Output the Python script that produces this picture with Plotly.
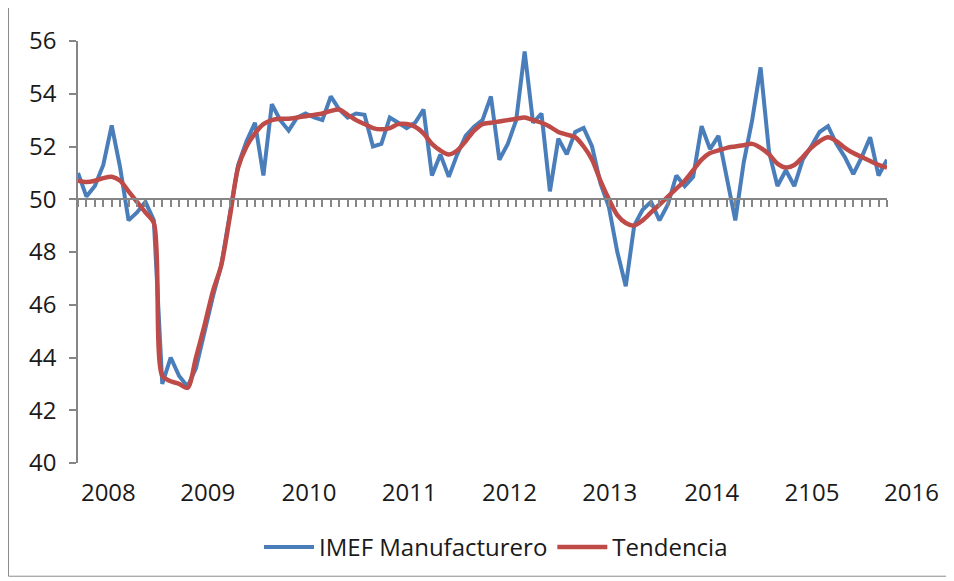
import plotly.graph_objects as go

imef = [51.0, 50.1, 50.5, 51.3, 52.8, 51.2, 49.2, 49.5, 49.9, 49.2,
        43.0, 44.0, 43.3, 42.9, 43.6, 45.0, 46.3, 47.5, 49.5, 51.3,
        52.2, 52.9, 50.9, 53.6, 53.0, 52.6, 53.1, 53.25, 53.1, 53.0,
        53.9, 53.4, 53.1, 53.25, 53.2, 52.0, 52.1, 53.1, 52.9, 52.7,
        52.9, 53.4, 50.9, 51.7, 50.85, 51.7, 52.4, 52.75, 53.0, 53.9,
        51.5, 52.1, 53.0, 55.6, 52.9, 53.25, 50.3, 52.3, 51.7, 52.55,
        52.7, 52.0, 50.6, 49.7, 48.0, 46.7, 49.0, 49.6, 49.9, 49.2,
        49.8, 50.9, 50.5, 50.85, 52.77, 51.9, 52.4, 50.8, 49.2, 51.4,
        53.0, 55.0, 51.8, 50.5, 51.1, 50.5, 51.5, 52.0, 52.55, 52.77,
        52.1, 51.6, 50.95, 51.6, 52.35, 50.9, 51.5]

tendencia = [50.7, 50.65, 50.7, 50.8, 50.85, 50.7, 50.3, 49.9, 49.5, 49.1,
             43.3, 43.1, 43.0, 42.85, 44.0, 45.2, 46.5, 47.5, 49.3, 51.2,
             52.0, 52.5, 52.85, 53.0, 53.05, 53.05, 53.1, 53.15, 53.2, 53.25,
             53.35, 53.4, 53.2, 53.0, 52.85, 52.7, 52.65, 52.7, 52.85, 52.85,
             52.75, 52.5, 52.1, 51.85, 51.7, 51.85, 52.2, 52.6, 52.85, 52.9,
             52.95, 53.0, 53.05, 53.1, 53.0, 52.9, 52.75, 52.55, 52.45, 52.35,
             52.0, 51.5, 50.7, 50.0, 49.4, 49.1, 49.0, 49.2, 49.5, 49.8,
             50.1, 50.4, 50.7, 51.1, 51.5, 51.75, 51.85, 51.95, 52.0, 52.05,
             52.1, 51.95, 51.7, 51.35, 51.2, 51.3, 51.6, 51.95, 52.2, 52.35,
             52.2, 51.95, 51.75, 51.6, 51.45, 51.3, 51.2]

months = list(range(len(imef)))

year_labels = ["2008", "2009", "2010", "2011", "2012", "2013", "2014", "2105", "2016"]
year_label_pos = [3.6, 15.4, 27.4, 39.3, 51.2, 63.1, 75.2, 87.1, 98.9]

y_ticks = [40, 42, 44, 46, 48, 50, 52, 54, 56]

BLUE = "#4A7EBB"
RED = "#BE4B48"
AXIS = "#868686"
TXT = "#1a1a1a"
FONT = "Open Sans, Liberation Sans, sans-serif"
FS = 24

OFF = 8  # page body margin
W, H = 954 - OFF, 581 - OFF
L = 78 - OFF
T = 40.5 - OFF
plot_h = 423
B = H - T - plot_h
plot_w = 846
R = W - L - plot_w
n_last = len(imef) - 1
data_frac = 809 / plot_w
label_range_max = n_last / data_frac


def px_to_paper_x(px):
    return (px - OFF - L) / plot_w


def px_to_paper_y(py):
    return (T + plot_h - (py - OFF)) / plot_h


fig = go.Figure()
# carrier for the year-label axis
fig.add_trace(go.Scatter(x=[year_label_pos[0]], y=[None], mode="lines",
                         showlegend=False, hoverinfo="skip",
                         xaxis="x", yaxis="y"))
fig.add_trace(go.Scatter(
    x=months, y=imef, mode="lines", name="IMEF Manufacturero",
    line=dict(color=BLUE, width=4), xaxis="x2", yaxis="y"))
fig.add_trace(go.Scatter(
    x=months, y=tendencia, mode="lines", name="Tendencia",
    line=dict(color=RED, width=4.5, shape="spline", smoothing=0.8),
    xaxis="x2", yaxis="y"))

border = dict(color="#8c8c8c", width=1)
fig.update_layout(
    width=W, height=H,
    margin=dict(l=L, r=R, t=T, b=B, autoexpand=False),
    paper_bgcolor="white", plot_bgcolor="white",
    font=dict(family=FONT, size=FS, color=TXT),
    showlegend=True,
    legend=dict(orientation="h", x=px_to_paper_x(496), xanchor="center",
                y=px_to_paper_y(548), yanchor="middle",
                font=dict(family=FONT, size=FS, color=TXT),
                itemwidth=50, tracegroupgap=0),
    xaxis=dict(domain=[0, 1], range=[0, label_range_max], anchor="y",
               showline=False, showgrid=False, zeroline=False, ticks="",
               tickmode="array", tickvals=year_label_pos, ticktext=year_labels,
               ticklabelstandoff=13,
               tickfont=dict(family=FONT, size=FS, color=TXT)),
    xaxis2=dict(domain=[0, data_frac], range=[0, n_last], anchor="free",
                position=(50 - 40) / (56 - 40),
                showline=True, linecolor=AXIS, linewidth=1.5,
                showgrid=False, zeroline=False, ticks="outside",
                ticklen=7, tickwidth=1.5, tickcolor=AXIS,
                tickmode="linear", tick0=0, dtick=1, showticklabels=False),
    yaxis=dict(domain=[0, 1], range=[40, 56], anchor="x",
               showline=True, linecolor=AXIS, linewidth=1.5,
               showgrid=False, zeroline=False, ticks="outside",
               ticklen=7, tickwidth=1.5, tickcolor=AXIS,
               tickmode="array", tickvals=y_ticks,
               ticklabelstandoff=8,
               tickfont=dict(family=FONT, size=FS, color=TXT)),
    shapes=[
        dict(type="line", xref="paper", yref="paper",
             x0=px_to_paper_x(8.5), x1=px_to_paper_x(8.5),
             y0=px_to_paper_y(577), y1=px_to_paper_y(-10),
             line=border, layer="below"),
        dict(type="line", xref="paper", yref="paper",
             x0=px_to_paper_x(8.5), x1=px_to_paper_x(970),
             y0=px_to_paper_y(577), y1=px_to_paper_y(577),
             line=border, layer="below"),
    ],
)

fig.write_html("out.html")
